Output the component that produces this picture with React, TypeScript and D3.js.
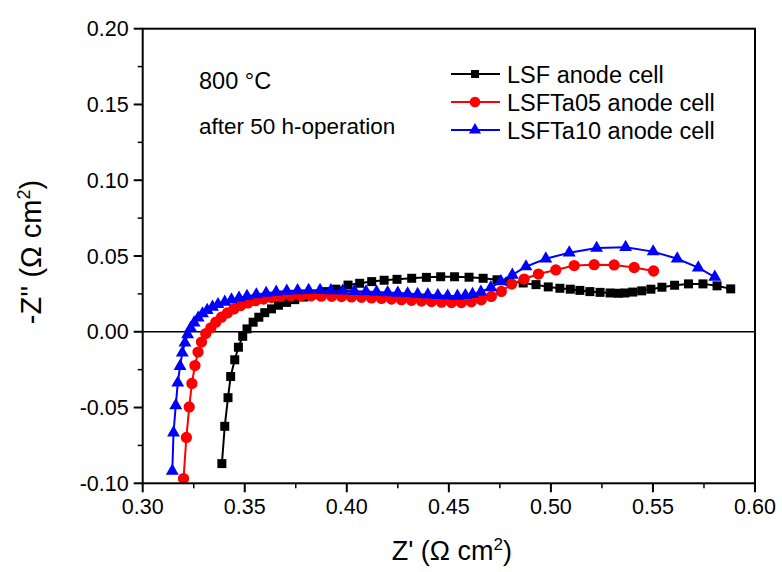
import React from "react";
import * as d3 from "d3";

const lsf: [number, number][] = [
  [0.3388, -0.087], [0.3402, -0.0624], [0.3418, -0.0435], [0.3431, -0.0295], [0.3451, -0.0185],
  [0.3469, -0.0102], [0.349, -0.003], [0.3511, 0.0019], [0.3541, 0.0063], [0.3569, 0.0096],
  [0.3598, 0.0126], [0.3631, 0.0151], [0.3665, 0.0175], [0.3705, 0.0194], [0.3745, 0.0212],
  [0.3789, 0.0229], [0.3838, 0.0245], [0.3892, 0.0265], [0.3946, 0.0281], [0.4006, 0.0308],
  [0.4063, 0.032], [0.4122, 0.0331], [0.4183, 0.034], [0.4246, 0.0346], [0.4318, 0.0353],
  [0.439, 0.0359], [0.446, 0.0363], [0.4528, 0.0363], [0.4599, 0.036], [0.4668, 0.0353],
  [0.4736, 0.0343], [0.4798, 0.0333], [0.4864, 0.0322], [0.4927, 0.0311], [0.4987, 0.0296],
  [0.5044, 0.0287], [0.5095, 0.0281], [0.5142, 0.0273], [0.5191, 0.0265], [0.5241, 0.026],
  [0.529, 0.0256], [0.533, 0.0254], [0.5363, 0.0256], [0.5401, 0.0262], [0.5445, 0.027],
  [0.549, 0.0281], [0.5544, 0.0294], [0.5606, 0.0307], [0.5674, 0.0316], [0.5745, 0.0316],
  [0.5814, 0.0303], [0.5881, 0.0283],
];

const lsfta05: [number, number][] = [
  [0.32, -0.0969], [0.3214, -0.0697], [0.3228, -0.0496], [0.3241, -0.0341], [0.3256, -0.0223],
  [0.3271, -0.0134], [0.3288, -0.0068], [0.3309, -0.0012], [0.3334, 0.0026], [0.3358, 0.0063],
  [0.3386, 0.0096], [0.3415, 0.0124], [0.3447, 0.0151], [0.348, 0.0173], [0.3516, 0.019],
  [0.3553, 0.0205], [0.3592, 0.0216], [0.3632, 0.0226], [0.3676, 0.0233], [0.3727, 0.0237],
  [0.3776, 0.0238], [0.3825, 0.0237], [0.3875, 0.0235], [0.3926, 0.0234], [0.3974, 0.0232],
  [0.4023, 0.023], [0.4072, 0.0227], [0.4121, 0.0223], [0.417, 0.022], [0.4219, 0.0216],
  [0.4268, 0.0212], [0.4317, 0.0208], [0.4366, 0.0203], [0.4415, 0.0199], [0.4464, 0.0195],
  [0.4513, 0.0193], [0.4561, 0.0193], [0.461, 0.0198], [0.4659, 0.0211], [0.4708, 0.0233],
  [0.4757, 0.0266], [0.4808, 0.0315], [0.4869, 0.0348], [0.4939, 0.0381], [0.5024, 0.0408],
  [0.5114, 0.0437], [0.5212, 0.0443], [0.531, 0.0441], [0.5408, 0.0424], [0.5503, 0.0401],
];

const lsfta10: [number, number][] = [
  [0.3145, -0.0919], [0.3151, -0.0666], [0.3162, -0.0486], [0.3172, -0.0337], [0.3183, -0.0227],
  [0.3194, -0.0139], [0.3207, -0.0073], [0.322, -0.0018], [0.3235, 0.0024], [0.3252, 0.006],
  [0.3272, 0.0092], [0.3293, 0.012], [0.3316, 0.0142], [0.3342, 0.0163], [0.3369, 0.0181],
  [0.3402, 0.0196], [0.3435, 0.0211], [0.3472, 0.0224], [0.3511, 0.0234], [0.3557, 0.0245],
  [0.3605, 0.0255], [0.3654, 0.0263], [0.3706, 0.0269], [0.3759, 0.0272], [0.3813, 0.0274],
  [0.3869, 0.0274], [0.3922, 0.0272], [0.398, 0.027], [0.4037, 0.0268], [0.4094, 0.0265],
  [0.4146, 0.0262], [0.42, 0.0259], [0.425, 0.0256], [0.4298, 0.0252], [0.4347, 0.0248],
  [0.4397, 0.0244], [0.4446, 0.024], [0.4494, 0.0237], [0.4542, 0.0236], [0.4581, 0.024],
  [0.4616, 0.0248], [0.4657, 0.0263], [0.4706, 0.0292], [0.4755, 0.0332], [0.4811, 0.0375],
  [0.4878, 0.043], [0.4975, 0.0482], [0.509, 0.0522], [0.5224, 0.0552], [0.5366, 0.0558],
  [0.5501, 0.0529], [0.5619, 0.0482], [0.5722, 0.0423], [0.5803, 0.0361],
];

const xTicks = [0.3, 0.35, 0.4, 0.45, 0.5, 0.55, 0.6];
const yTicks = [-0.1, -0.05, 0.0, 0.05, 0.1, 0.15, 0.2];
const seriesNames = ["LSF anode cell", "LSFTa05 anode cell", "LSFTa10 anode cell"];
const seriesColors = ["#000000", "#ff0000", "#0000ff"];

const FONT = "'Liberation Sans', Arial, Helvetica, sans-serif";

export default function App() {
  const W = 782, H = 572;
  const L = 142.7, R = 755, T = 28.7, B = 483.3;
  const x = d3.scaleLinear().domain([0.3, 0.6]).range([L, R]);
  const y = d3.scaleLinear().domain([-0.1, 0.2]).range([B, T]);
  const line = d3.line<[number, number]>().x((d) => x(d[0])).y((d) => y(d[1]));

  const symbols = [
    d3.symbol().type(d3.symbolSquare).size(81)(),
    d3.symbol().type(d3.symbolCircle).size(100)(),
    d3.symbol().type(d3.symbolTriangle).size(72)(),
  ];
  const legendSymbols = [
    d3.symbol().type(d3.symbolSquare).size(64)(),
    d3.symbol().type(d3.symbolCircle).size(90)(),
    d3.symbol().type(d3.symbolTriangle).size(64)(),
  ];
  const data = [lsf, lsfta05, lsfta10];

  const xMinor = d3.range(0, 6).map((i) => 0.325 + i * 0.05);
  const yMinor = d3.range(0, 6).map((i) => -0.075 + i * 0.05);

  return (
    <svg width={W} height={H} style={{ position: "absolute", left: 0, top: 0, background: "#fff" }}>
      <rect x={0} y={0} width={W} height={H} fill="#fff" />
      <line x1={L} x2={R} y1={y(0)} y2={y(0)} stroke="#000" strokeWidth={1.6} />

      {data.map((d, i) => (
        <g key={i}>
          <path d={line(d) || ""} fill="none" stroke={seriesColors[i]} strokeWidth={2} />
          {d.map((p, j) => (
            <path key={j} d={symbols[i] || ""} transform={`translate(${x(p[0])},${y(p[1])})`} fill={seriesColors[i]} />
          ))}
        </g>
      ))}

      <rect x={L} y={T} width={R - L} height={B - T} fill="none" stroke="#000" strokeWidth={2} />

      {xTicks.map((t) => (
        <g key={"xt" + t}>
          <line x1={x(t)} x2={x(t)} y1={B} y2={B + 9} stroke="#000" strokeWidth={2} />
          <text x={x(t)} y={B + 31} fontFamily={FONT} fontSize={21.5} textAnchor="middle" fill="#000">
            {t.toFixed(2)}
          </text>
        </g>
      ))}
      {xMinor.map((t) => (
        <line key={"xm" + t} x1={x(t)} x2={x(t)} y1={B} y2={B + 5} stroke="#000" strokeWidth={1.5} />
      ))}

      {yTicks.map((t) => (
        <g key={"yt" + t}>
          <line x1={L - 9} x2={L} y1={y(t)} y2={y(t)} stroke="#000" strokeWidth={2} />
          <text x={L - 14} y={y(t) + 7.5} fontFamily={FONT} fontSize={21.5} textAnchor="end" fill="#000">
            {t.toFixed(2)}
          </text>
        </g>
      ))}
      {yMinor.map((t) => (
        <line key={"ym" + t} x1={L - 5} x2={L} y1={y(t)} y2={y(t)} stroke="#000" strokeWidth={1.5} />
      ))}

      <text x={(L + R) / 2 + 3} y={560} fontFamily={FONT} fontSize={27} textAnchor="middle" fill="#000">
        Z' (Ω cm<tspan dy={-10} fontSize={17}>2</tspan><tspan dy={10}>)</tspan>
      </text>
      <text
        transform={`translate(41,${(T + B) / 2 - 4}) rotate(-90)`}
        fontFamily={FONT}
        fontSize={29}
        textAnchor="middle"
        fill="#000"
      >
        -Z'' (Ω cm<tspan dy={-11} fontSize={18}>2</tspan><tspan dy={11}>)</tspan>
      </text>

      <text x={199} y={89} fontFamily={FONT} fontSize={23.5} fill="#000">800 °C</text>
      <text x={199} y={134} fontFamily={FONT} fontSize={22.5} fill="#000">after 50 h-operation</text>

      {seriesNames.map((name, i) => {
        const ly = 74 + i * 28;
        return (
          <g key={name}>
            <line x1={451} x2={500} y1={ly} y2={ly} stroke={seriesColors[i]} strokeWidth={2} />
            <path d={legendSymbols[i] || ""} transform={`translate(475,${ly})`} fill={seriesColors[i]} />
            <text x={507} y={ly + 8.5} fontFamily={FONT} fontSize={23.5} fill="#000">{name}</text>
          </g>
        );
      })}
    </svg>
  );
}
